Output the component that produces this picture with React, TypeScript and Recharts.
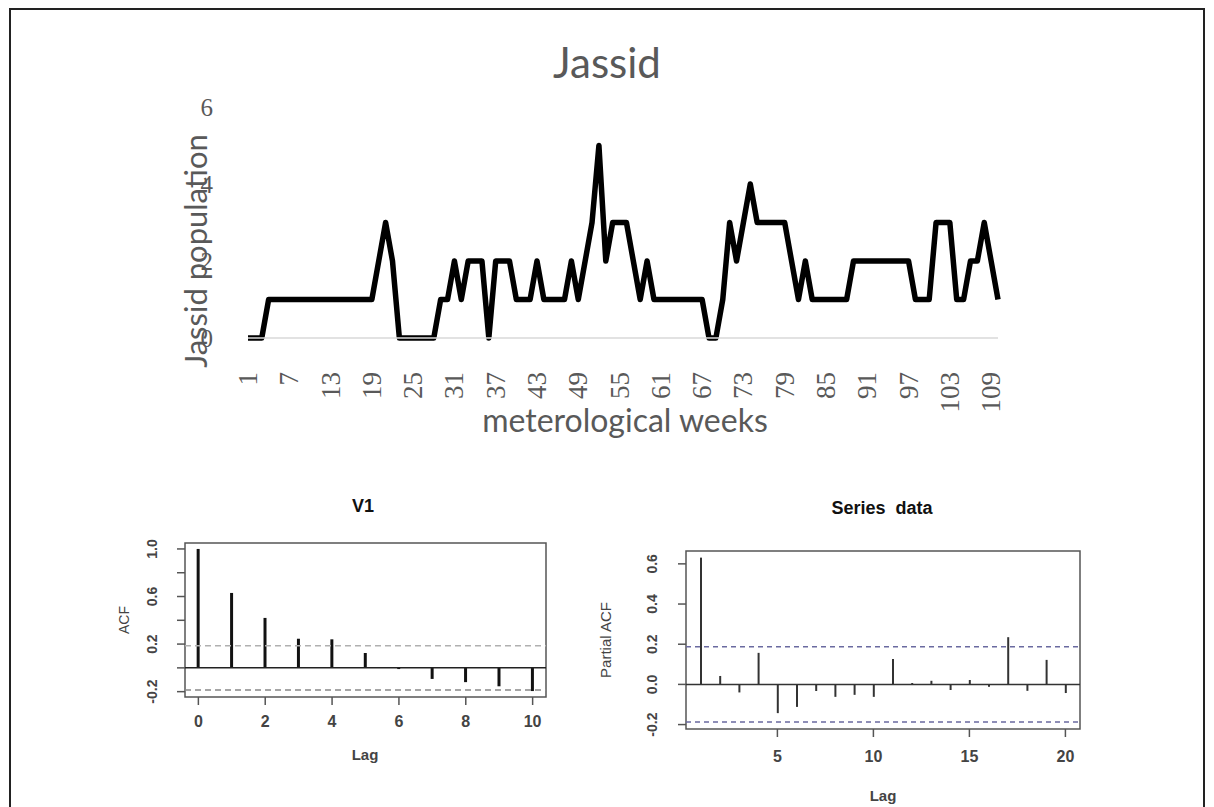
import React from "react";
import {
  LineChart,
  Line,
  XAxis,
  YAxis,
  ComposedChart,
  Bar,
  ReferenceLine,
  ReferenceArea,
} from "recharts";

// weekly jassid counts
const weeks = Array.from({ length: 110 }, (_, i) => i + 1);
const jassidCounts = [
  0, 0, 0, 1, 1, 1, 1, 1, 1, 1,
  1, 1, 1, 1, 1, 1, 1, 1, 1, 2,
  3, 2, 0, 0, 0, 0, 0, 0, 1, 1,
  2, 1, 2, 2, 2, 0, 2, 2, 2, 1,
  1, 1, 2, 1, 1, 1, 1, 2, 1, 2,
  3, 5, 2, 3, 3, 3, 2, 1, 2, 1,
  1, 1, 1, 1, 1, 1, 1, 0, 0, 1,
  3, 2, 3, 4, 3, 3, 3, 3, 3, 2,
  1, 2, 1, 1, 1, 1, 1, 1, 2, 2,
  2, 2, 2, 2, 2, 2, 2, 1, 1, 1,
  3, 3, 3, 1, 1, 2, 2, 3, 2, 1,
];
const popTicks = [0, 2, 4, 6];

// ACF of V1
const acfLags = [0, 1, 2, 3, 4, 5, 6, 7, 8, 9, 10];
const acfValues = [1.0, 0.63, 0.42, 0.245, 0.24, 0.125, -0.01, -0.093, -0.12, -0.155, -0.195];
const acfTicks = [-0.2, 0, 0.2, 0.4, 0.6, 0.8, 1.0];
const acfTickLabels = ["-0.2", "", "0.2", "", "0.6", "", "1.0"];
const acfLagTicks = [0, 2, 4, 6, 8, 10];

// partial ACF of the series
const pacfLags = [1, 2, 3, 4, 5, 6, 7, 8, 9, 10, 11, 12, 13, 14, 15, 16, 17, 18, 19, 20];
const pacfValues = [
  0.631, 0.042, -0.04, 0.157, -0.143, -0.112, -0.033, -0.062, -0.052, -0.062,
  0.127, 0.007, 0.018, -0.028, 0.022, -0.012, 0.235, -0.032, 0.122, -0.043,
];
const pacfTicks = [-0.2, 0, 0.2, 0.4, 0.6];
const pacfTickLabels = ["-0.2", "0.0", "0.2", "0.4", "0.6"];
const pacfLagTicks = [5, 10, 15, 20];

const ciLimit = 0.187;

const jassidData = weeks.map((w, i) => ({ week: w, pop: jassidCounts[i] }));
const acfData = acfLags.map((l, i) => ({ lag: l, acf: acfValues[i] }));
const pacfData = pacfLags.map((l, i) => ({ lag: l, pacf: pacfValues[i] }));

const EXCEL_GREY = "#595959";
const SANS = '"Liberation Sans", Arial, sans-serif';

const WeekTick = (props: any) => {
  const { x, y, payload } = props;
  return (
    <text
      x={x}
      y={y}
      transform={`rotate(-90, ${x}, ${y})`}
      textAnchor="end"
      dominantBaseline="central"
      fill={EXCEL_GREY}
      fontSize={27}
      fontFamily='"Liberation Serif", serif'
    >
      {payload.value}
    </text>
  );
};

const makeRotTick = (ticks: number[], labels: string[]) => (props: any) => {
  const { x, y, payload } = props;
  const idx = ticks.findIndex((t) => Math.abs(t - payload.value) < 1e-6);
  const label = idx >= 0 ? labels[idx] : "";
  return (
    <text
      x={x}
      y={y}
      transform={`rotate(-90, ${x}, ${y})`}
      textAnchor="middle"
      dominantBaseline="central"
      fill="#444"
      fontSize={14}
      fontWeight="bold"
      fontFamily={SANS}
    >
      {label}
    </text>
  );
};

const Txt = ({ x, y, size, children, rotate, bold, color, font }: any) => (
  <div
    style={{
      position: "absolute",
      left: x,
      top: y,
      transform: `translate(-50%, -50%)${rotate ? " rotate(-90deg)" : ""}`,
      whiteSpace: "pre",
      fontSize: size,
      fontWeight: bold ? "bold" : "normal",
      color: color || "#444",
      fontFamily: font || SANS,
      lineHeight: 1,
    }}
  >
    {children}
  </div>
);

const rTick = { fill: "#444", fontSize: 16, fontWeight: "bold", fontFamily: SANS };

export default function App() {
  return (
    <div
      style={{
        position: "absolute",
        left: 0,
        top: 0,
        width: 1214,
        height: 807,
        overflow: "hidden",
        background: "#fff",
      }}
    >
      {/* outer frame */}
      <div
        style={{
          position: "absolute",
          left: 9,
          top: 8,
          width: 1196,
          height: 820,
          border: "2px solid #222",
          boxSizing: "border-box",
        }}
      />

      {/* top line chart */}
      <div style={{ position: "absolute", left: 0, top: 0 }}>
        <LineChart
          width={1214}
          height={450}
          data={jassidData}
          margin={{ top: 107, right: 216, bottom: 52, left: 188 }}
        >
          <XAxis
            dataKey="week"
            interval={5}
            tick={<WeekTick />}
            tickLine={false}
            tickSize={0}
            tickMargin={34}
            axisLine={{ stroke: "#d9d9d9", strokeWidth: 1.5 }}
            height={60}
          />
          <YAxis
            domain={[0, 6]}
            ticks={popTicks}
            width={60}
            tickLine={false}
            tickSize={0}
            tickMargin={35}
            axisLine={false}
            tick={{ fill: EXCEL_GREY, fontSize: 25, fontFamily: '"Liberation Serif", serif' }}
          />
          <Line
            dataKey="pop"
            stroke="#000"
            strokeWidth={5.5}
            strokeLinejoin="round"
            dot={false}
            isAnimationActive={false}
          />
        </LineChart>
      </div>
      <Txt x={607} y={62} size={42} color={EXCEL_GREY} font="Lato, sans-serif">Jassid</Txt>
      <Txt x={195} y={251} size={31} color={EXCEL_GREY} font="Lato, sans-serif" rotate>Jassid population</Txt>
      <Txt x={625} y={420} size={32} color={EXCEL_GREY} font="Lato, sans-serif">meterological weeks</Txt>

      {/* ACF */}
      <div style={{ position: "absolute", left: 100, top: 530 }}>
        <ComposedChart
          width={480}
          height={260}
          data={acfData}
          margin={{ top: 13, right: 34, bottom: 53, left: 45 }}
        >
          <XAxis
            type="number"
            dataKey="lag"
            domain={[-0.4, 10.4]}
            ticks={acfLagTicks}
            axisLine={false}
            tickSize={8}
            tickLine={{ stroke: "#555", strokeWidth: 1.5 }}
            tickMargin={11}
            height={40}
            tick={rTick}
          />
          <YAxis
            type="number"
            domain={[-0.245, 1.05]}
            ticks={acfTicks}
            width={40}
            axisLine={false}
            tickSize={8}
            tickMargin={25}
            tickLine={{ stroke: "#555", strokeWidth: 1.5 }}
            tick={makeRotTick(acfTicks, acfTickLabels)}
          />
          <ReferenceArea x1={-0.4} x2={10.4} y1={-0.245} y2={1.05} fill="none" stroke="#555" strokeWidth={1.5} />
          <ReferenceLine y={0} stroke="#222" strokeWidth={1.5} />
          <ReferenceLine y={ciLimit} stroke="#b0b0b0" strokeWidth={1.5} strokeDasharray="6 4" />
          <ReferenceLine y={-ciLimit} stroke="#888" strokeWidth={1.5} strokeDasharray="6 4" />
          <Bar dataKey="acf" barSize={3} fill="#111" isAnimationActive={false} />
        </ComposedChart>
      </div>
      <Txt x={363} y={506} size={18} bold color="#111">V1</Txt>
      <Txt x={365} y={754} size={15} bold>Lag</Txt>
      <Txt x={124} y={620} size={14} rotate>ACF</Txt>

      {/* PACF */}
      <div style={{ position: "absolute", left: 580, top: 530 }}>
        <ComposedChart
          width={534}
          height={277}
          data={pacfData}
          margin={{ top: 21, right: 34, bottom: 38, left: 66 }}
        >
          <XAxis
            type="number"
            dataKey="lag"
            domain={[0.24, 20.76]}
            ticks={pacfLagTicks}
            axisLine={false}
            tickSize={8}
            tickLine={{ stroke: "#555", strokeWidth: 1.5 }}
            tickMargin={14}
            height={40}
            tick={rTick}
          />
          <YAxis
            type="number"
            domain={[-0.222, 0.664]}
            ticks={pacfTicks}
            width={40}
            axisLine={false}
            tickSize={8}
            tickMargin={26}
            tickLine={{ stroke: "#555", strokeWidth: 1.5 }}
            tick={makeRotTick(pacfTicks, pacfTickLabels)}
          />
          <ReferenceArea x1={0.24} x2={20.76} y1={-0.222} y2={0.664} fill="none" stroke="#555" strokeWidth={1.5} />
          <ReferenceLine y={0} stroke="#333" strokeWidth={1.5} />
          <ReferenceLine y={ciLimit} stroke="#6a6aa0" strokeWidth={1.5} strokeDasharray="5 4" />
          <ReferenceLine y={-ciLimit} stroke="#6a6aa0" strokeWidth={1.5} strokeDasharray="5 4" />
          <Bar dataKey="pacf" barSize={2} fill="#333" isAnimationActive={false} />
        </ComposedChart>
      </div>
      <Txt x={882} y={508} size={18} bold color="#111">{"Series  data"}</Txt>
      <Txt x={883} y={795} size={15} bold>Lag</Txt>
      <Txt x={605} y={640} size={15} rotate>Partial ACF</Txt>
    </div>
  );
}
